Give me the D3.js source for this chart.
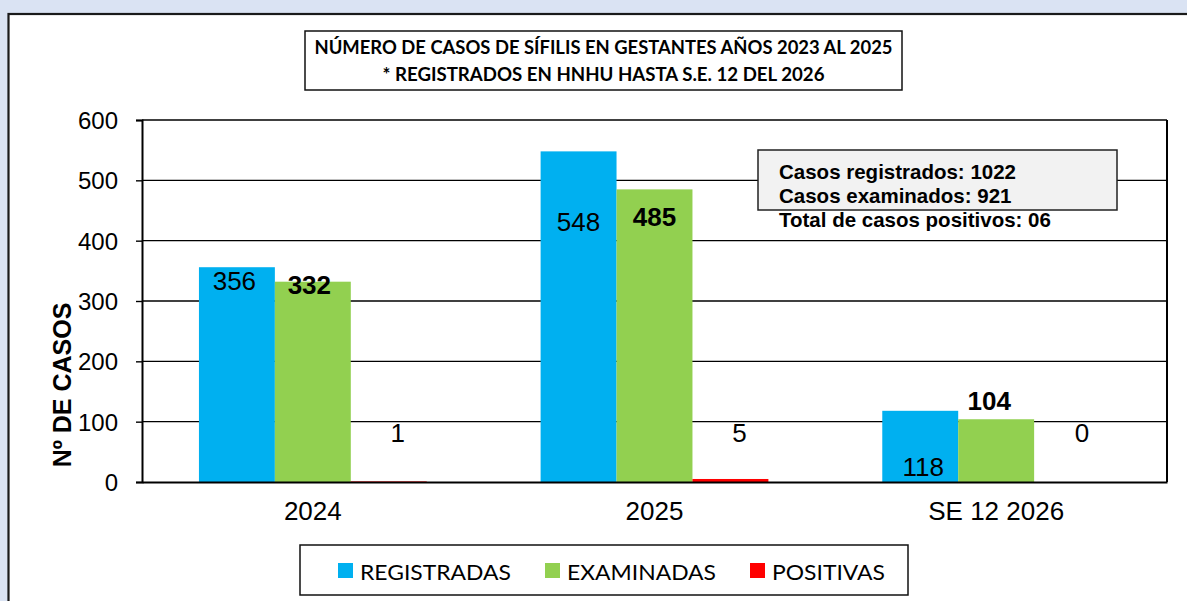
<!DOCTYPE html>
<html><head><meta charset="utf-8">
<script src="https://cdn.jsdelivr.net/npm/d3@7"></script>
<style>body{margin:0;background:#dae3f3;}svg{display:block;}</style>
</head><body>
<svg id="c" width="1187" height="601"></svg>
<script>
// ---- data ----
const categories = ["2024", "2025", "SE 12 2026"];
const seriesNames = ["REGISTRADAS", "EXAMINADAS", "POSITIVAS"];
const registradas = [356, 548, 118];
const examinadas = [332, 485, 104];
const positivas = [1, 5, 0];
const yTicks = [0, 100, 200, 300, 400, 500, 600];
const titleLines = ["NÚMERO DE CASOS DE SÍFILIS EN GESTANTES AÑOS 2023 AL 2025", "* REGISTRADOS EN HNHU HASTA S.E. 12 DEL 2026"];
const infoLines = ["Casos registrados: 1022", "Casos examinados: 921", "Total de casos positivos: 06"];
const yTitle = "Nº DE CASOS";

// ---- styling / layout ----
const colors = ["#00b0f0", "#92d050", "#ff0000"];
const labelBold = [false, true, false];
// label nudges (pixels from bar top) per series, per category
const nudgeDx = [[-2.5, 0, 3], [-3.5, 0, -7], [9, 9, 10]];
const nudgeDy = [[23, 79.5, 65], [12, 36.5, -9], [-39.5, -37, -40]];

const series = [registradas, examinadas, positivas];
const svg = d3.select("#c");
const AR = "'Liberation Sans', Arial, sans-serif";
const CAL = "Lato, 'Open Sans', sans-serif";

svg.append("rect").attr("width", 1187).attr("height", 601).attr("fill", "#dae3f3");
svg.append("rect").attr("x", 8.5).attr("y", 14).attr("width", 1200).attr("height", 620)
  .attr("fill", "#fff").attr("stroke", "#1a1a1a").attr("stroke-width", 2.2);

const L = 142, R = 1167, T = 120, B = 482;
const x = d3.scaleBand().domain(categories).range([L, R]).padding(0);
const xs = d3.scaleBand().domain(seriesNames).range([0, x.bandwidth()]).paddingInner(0).paddingOuter(0.75);
const y = d3.scaleLinear().domain([0, 600]).range([B, T]);

// gridlines
svg.append("g").selectAll("line").data(yTicks.filter(d => d > 0)).join("line")
  .attr("x1", L).attr("x2", R).attr("y1", d => y(d)).attr("y2", d => y(d))
  .attr("stroke", "#000").attr("stroke-width", 1.4);

// y axis
const yAxis = svg.append("g").attr("transform", `translate(${L},0)`)
  .call(d3.axisLeft(y).tickValues(yTicks).tickSize(6).tickPadding(18).tickFormat(d3.format("d")));
yAxis.select(".domain").attr("stroke", "#000").attr("stroke-width", 2);
yAxis.selectAll(".tick line").attr("stroke", "#000").attr("stroke-width", 1.4);
yAxis.selectAll(".tick text").attr("font-family", AR).attr("font-size", 24).attr("fill", "#000").attr("dy", "0.36em");

// right border
svg.append("line").attr("x1", R).attr("x2", R).attr("y1", T).attr("y2", B).attr("stroke", "#000").attr("stroke-width", 2);

// bars
const groups = svg.append("g").selectAll("g").data(categories).join("g")
  .attr("transform", d => `translate(${x(d)},0)`);
seriesNames.forEach((s, si) => {
  groups.append("rect")
    .attr("x", xs(s)).attr("width", xs.bandwidth())
    .attr("y", (d, ci) => y(series[si][ci]))
    .attr("height", (d, ci) => B - y(series[si][ci]))
    .attr("fill", colors[si]);
});

// x axis
const xAxis = svg.append("g").attr("transform", `translate(0,${B})`)
  .call(d3.axisBottom(x).tickSize(0).tickPadding(20));
xAxis.select(".domain").attr("stroke", "#000").attr("stroke-width", 2.2);
xAxis.selectAll(".tick text").attr("font-family", AR).attr("font-size", 26).attr("fill", "#000").attr("dy", "0.71em");

// data labels
seriesNames.forEach((s, si) => {
  groups.append("text")
    .attr("x", (d, ci) => xs(s) + xs.bandwidth() / 2 + nudgeDx[si][ci])
    .attr("y", (d, ci) => y(series[si][ci]) + nudgeDy[si][ci])
    .attr("text-anchor", "middle").attr("font-family", AR).attr("font-size", 26)
    .attr("font-weight", labelBold[si] ? "bold" : "normal").attr("fill", "#000")
    .text((d, ci) => series[si][ci]);
});

// y title
svg.append("text").attr("transform", "translate(71,385) rotate(-90)")
  .attr("text-anchor", "middle").attr("font-family", AR).attr("font-size", 25)
  .attr("font-weight", "bold").attr("fill", "#000").text(yTitle);

// title box
svg.append("rect").attr("x", 305).attr("y", 31).attr("width", 597).attr("height", 59)
  .attr("fill", "#fff").attr("stroke", "#111").attr("stroke-width", 1.5);
const tW = [578, 442];
svg.append("g").selectAll("text").data(titleLines).join("text")
  .attr("x", 603.5).attr("y", (d, i) => 53.5 + i * 27)
  .attr("text-anchor", "middle").attr("font-family", CAL).attr("font-weight", "bold")
  .attr("font-size", 18).attr("fill", "#000")
  .attr("textLength", (d, i) => tW[i]).attr("lengthAdjust", "spacingAndGlyphs").text(d => d);

// info box
svg.append("rect").attr("x", 758).attr("y", 150).attr("width", 359).attr("height", 60)
  .attr("fill", "#f2f2f2").attr("stroke", "#222").attr("stroke-width", 1.5);
svg.append("g").selectAll("text").data(infoLines).join("text")
  .attr("x", 779).attr("y", (d, i) => 179 + i * 24)
  .attr("font-family", AR).attr("font-weight", "bold").attr("font-size", 20.5).attr("fill", "#000")
  .text(d => d);

// legend
svg.append("rect").attr("x", 300).attr("y", 545).attr("width", 608).attr("height", 50)
  .attr("fill", "#fff").attr("stroke", "#111").attr("stroke-width", 1.5);
const legX = [338, 545, 750];
const legW = [151, 149, 113];
const leg = svg.append("g").selectAll("g").data(seriesNames).join("g")
  .attr("transform", (d, i) => `translate(${legX[i]},0)`);
leg.append("rect").attr("x", 0).attr("y", 563).attr("width", 15).attr("height", 15).attr("fill", (d, i) => colors[i]);
leg.append("text").attr("x", 22).attr("y", 580).attr("font-family", CAL).attr("font-size", 22)
  .attr("fill", "#000").attr("textLength", (d, i) => legW[i]).attr("lengthAdjust", "spacingAndGlyphs").text(d => d);
</script>
</body></html>
